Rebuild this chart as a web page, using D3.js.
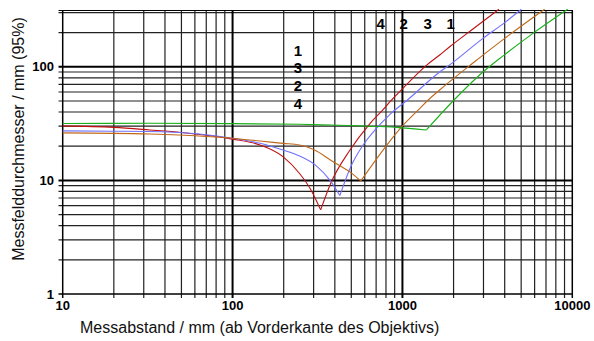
<!DOCTYPE html>
<html><head><meta charset="utf-8">
<script src="https://cdn.jsdelivr.net/npm/d3@7"></script>
<style>body{margin:0;background:#fff}svg{display:block}</style>
</head><body><svg id="c" width="594" height="341"></svg>
<script>
// Data: distance (mm) vs spot diameter (mm)
const curve1 = [[10,30.2],[20,29.3],[32.6,27.8],[50,26.4],[100,23.1],[145,20.5],[198,16.2],[248,11.5],[290,8.2],[330,5.5],[379,9.5],[490,18.4],[642,31.5],[769,42],[842,49],[1000,64],[1384,103],[1657,127],[1897,150],[2600,215],[3700,321]];
const curve2 = [[10,27.3],[20,27.1],[38.4,26.8],[100,23.5],[145,21.2],[198,18.5],[248,16.4],[310,13.5],[373,10.1],[428,7.35],[500,13.5],[587,20.5],[700,28.5],[842,38],[1070,51],[1657,90],[1897,104],[2979,178],[4000,245],[5012,321]];
const curve3 = [[10,26.2],[32.6,25.6],[60,24.7],[100,23.5],[145,22.2],[198,21.2],[248,20.5],[300,18.7],[391,14.6],[490,11.9],[569,9.9],[769,18.5],[1010,30.6],[1236,41.5],[1418,51],[1657,62.5],[2602,108],[4000,178],[6870,321]];
const curve4 = [[10,31.7],[32.6,31.8],[100,31.6],[248,31.2],[378,30.7],[600,30.1],[922,29.3],[1384,27.8],[1985,50],[2979,90],[4000,128],[5866,197],[9380,321]];
const seriesNames = ["1","2","3","4"];
const seriesColors = ["#c01010","#7070ff","#c06818","#18b018"];
const xMajor = [10,100,1000,10000];
const yMajor = [1,10,100];
const xLabels = ["10","100","1000","10000"];
const yLabels = ["1","10","100"];
const topLabels = ["4","2","3","1"];
const sideLabels = ["1","3","2","4"];

const svg = d3.select("#c");
const x = d3.scaleLog().domain([10,10000]).range([62.7,572.3]);
const y = d3.scaleLog().domain([1,Math.pow(10,2.5)]).range([294,10]);
const FONT = "'Liberation Sans', Arial, sans-serif";

// minor grid
const xMinor = [], yMinor = [];
[10,100,1000].forEach(d => { for (let k=2;k<=9;k++) xMinor.push(d*k); });
[1,10].forEach(d => { for (let k=2;k<=9;k++) yMinor.push(d*k); });
yMinor.push(200,300);

const g = svg.append("g");
g.selectAll(".vx").data(xMinor).join("line")
  .attr("x1",d=>x(d)).attr("x2",d=>x(d)).attr("y1",y.range()[1]).attr("y2",298)
  .attr("stroke","#222").attr("stroke-width",1.2);
g.selectAll(".hy").data(yMinor).join("line")
  .attr("y1",d=>y(d)).attr("y2",d=>y(d)).attr("x1",58.5).attr("x2",x.range()[1])
  .attr("stroke","#222").attr("stroke-width",1.2);
// top border
g.append("line").attr("x1",58.5).attr("x2",x.range()[1]).attr("y1",10.5).attr("y2",10.5)
  .attr("stroke","#000").attr("stroke-width",1.2);
// major grid
g.selectAll(".vM").data(xMajor).join("line")
  .attr("x1",d=>x(d)).attr("x2",d=>x(d)).attr("y1",y.range()[1]).attr("y2",298)
  .attr("stroke","#000").attr("stroke-width",d=> (d===10||d===10000)?1.5:2);
g.selectAll(".hM").data(yMajor).join("line")
  .attr("y1",d=>y(d)).attr("y2",d=>y(d)).attr("x1",58.5).attr("x2",x.range()[1])
  .attr("stroke","#000").attr("stroke-width",d=> d===1?1.5:2);

// curves: split at minimum into two branches
const line = d3.line().x(d=>x(d[0])).y(d=>y(d[1])).curve(d3.curveMonotoneX);
[curve1,curve2,curve3,curve4].forEach((c,i) => {
  let mi = 0; c.forEach((p,j)=>{ if (p[1] < c[mi][1]) mi = j; });
  [c.slice(0,mi+1), c.slice(mi)].forEach(seg => {
    svg.append("path").attr("d",line(seg)).attr("fill","none")
      .attr("stroke",seriesColors[i]).attr("stroke-width",1.1);
  });
});

// tick labels
svg.selectAll(".xl").data(xMajor).join("text")
  .attr("x",d=>x(d)).attr("y",310).attr("text-anchor","middle")
  .attr("font-family",FONT).attr("font-weight","bold").attr("font-size",13)
  .text((d,i)=>xLabels[i]);
svg.selectAll(".yl").data(yMajor).join("text")
  .attr("x",54).attr("y",d=>y(d)+4.5).attr("text-anchor","end")
  .attr("font-family",FONT).attr("font-weight","bold").attr("font-size",13)
  .text((d,i)=>yLabels[i]);

// curve labels
const topX = [380.7,403.7,427.7,450.7];
svg.selectAll(".tl").data(topLabels).join("text")
  .attr("x",(d,i)=>topX[i]).attr("y",28.5).attr("text-anchor","middle")
  .attr("font-family",FONT).attr("font-weight","bold").attr("font-size",15).text(d=>d);
svg.selectAll(".sl").data(sideLabels).join("text")
  .attr("x",298).attr("y",(d,i)=>55.5+i*17.7).attr("text-anchor","middle")
  .attr("font-family",FONT).attr("font-weight","bold").attr("font-size",15).text(d=>d);

// axis titles
svg.append("text").attr("x",80).attr("y",333)
  .attr("font-family",FONT).attr("font-size",16).attr("fill","#111")
  .text("Messabstand / mm (ab Vorderkante des Objektivs)");
svg.append("text").attr("transform","translate(24,139) rotate(-90)")
  .attr("text-anchor","middle")
  .attr("font-family",FONT).attr("font-size",16).attr("fill","#111")
  .text("Messfelddurchmesser / mm (95%)");
</script></body></html>
